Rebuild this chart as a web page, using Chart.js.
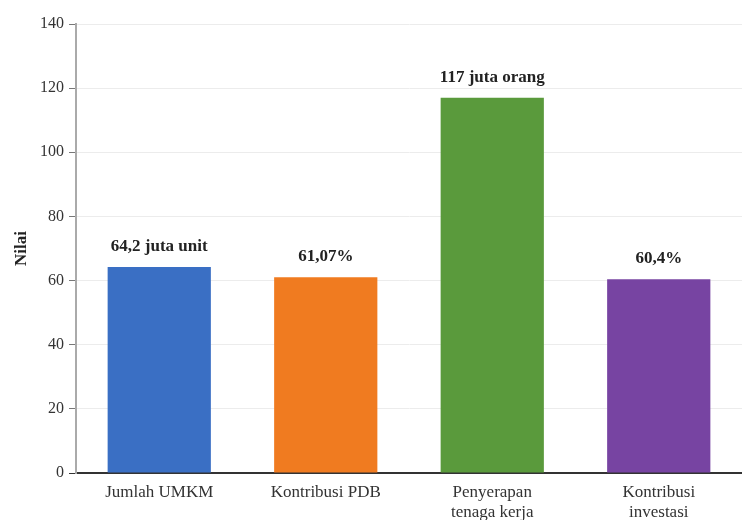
<!DOCTYPE html>
<html>
<head>
<meta charset="utf-8">
<script src="https://cdn.jsdelivr.net/npm/chart.js@4"></script>
<style>
html,body{margin:0;padding:0;background:#fff;}
#wrap{width:742px;height:520px;}
</style>
</head>
<body>
<div id="wrap"><canvas id="c" width="742" height="520"></canvas></div>
<script>
const categories = [["Jumlah UMKM"], ["Kontribusi PDB"], ["Penyerapan", "tenaga kerja"], ["Kontribusi", "investasi"]];
const values = [64.2, 61.07, 117, 60.4];
const valueLabels = ["64,2 juta unit", "61,07%", "117 juta orang", "60,4%"];
const barColors = ["#3a6fc4", "#f07b20", "#5a9a3c", "#7744a2"];
const yTicks = [0, 20, 40, 60, 80, 100, 120, 140];

const serif = "'Liberation Serif', 'DejaVu Serif', serif";

const valueLabelPlugin = {
  id: 'valueLabels',
  afterDatasetsDraw(chart) {
    const ctx = chart.ctx;
    const meta = chart.getDatasetMeta(0);
    ctx.save();
    ctx.font = "bold 17px " + serif;
    ctx.fillStyle = "#222";
    ctx.textAlign = "center";
    ctx.textBaseline = "bottom";
    meta.data.forEach((bar, i) => {
      ctx.fillText(valueLabels[i], bar.x, bar.y - 12);
    });
    ctx.restore();
  }
};

new Chart(document.getElementById('c'), {
  type: 'bar',
  data: {
    labels: categories,
    datasets: [{
      data: values,
      backgroundColor: barColors,
      borderWidth: 0,
      categoryPercentage: 1.0,
      barPercentage: 0.62
    }]
  },
  options: {
    responsive: false,
    animation: false,
    devicePixelRatio: 1,
    layout: { padding: { top: 24, right: 0, left: 11, bottom: 0 } },
    plugins: {
      legend: { display: false },
      tooltip: { enabled: false }
    },
    scales: {
      x: {
        grid: { display: false, drawTicks: false },
        border: { display: true, color: "#333", width: 2 },
        ticks: {
          font: { family: serif, size: 17, lineHeight: 1.15 },
          color: "#333",
          padding: 10,
          maxRotation: 0
        },
        afterFit(scale) { scale.height = 47; }
      },
      y: {
        min: 0,
        max: 140,
        afterBuildTicks(scale) { scale.ticks = yTicks.map(v => ({ value: v })); },
        grid: {
          color: "#ececec",
          tickColor: (c) => c.tick && c.tick.value === 0 ? "#333" : "#777",
          tickLength: 7,
          lineWidth: 1,
          drawTicks: true
        },
        border: { display: true, color: "#aaa", width: 2 },
        ticks: {
          font: { family: serif, size: 16 },
          color: "#333",
          padding: 5
        },
        title: {
          display: true,
          text: "Nilai",
          font: { family: serif, size: 17, weight: "bold" },
          color: "#222",
          padding: { top: 0, bottom: 0 }
        },
        afterFit(scale) { scale.width = 65; }
      }
    }
  },
  plugins: [valueLabelPlugin]
});
</script>
</body>
</html>
